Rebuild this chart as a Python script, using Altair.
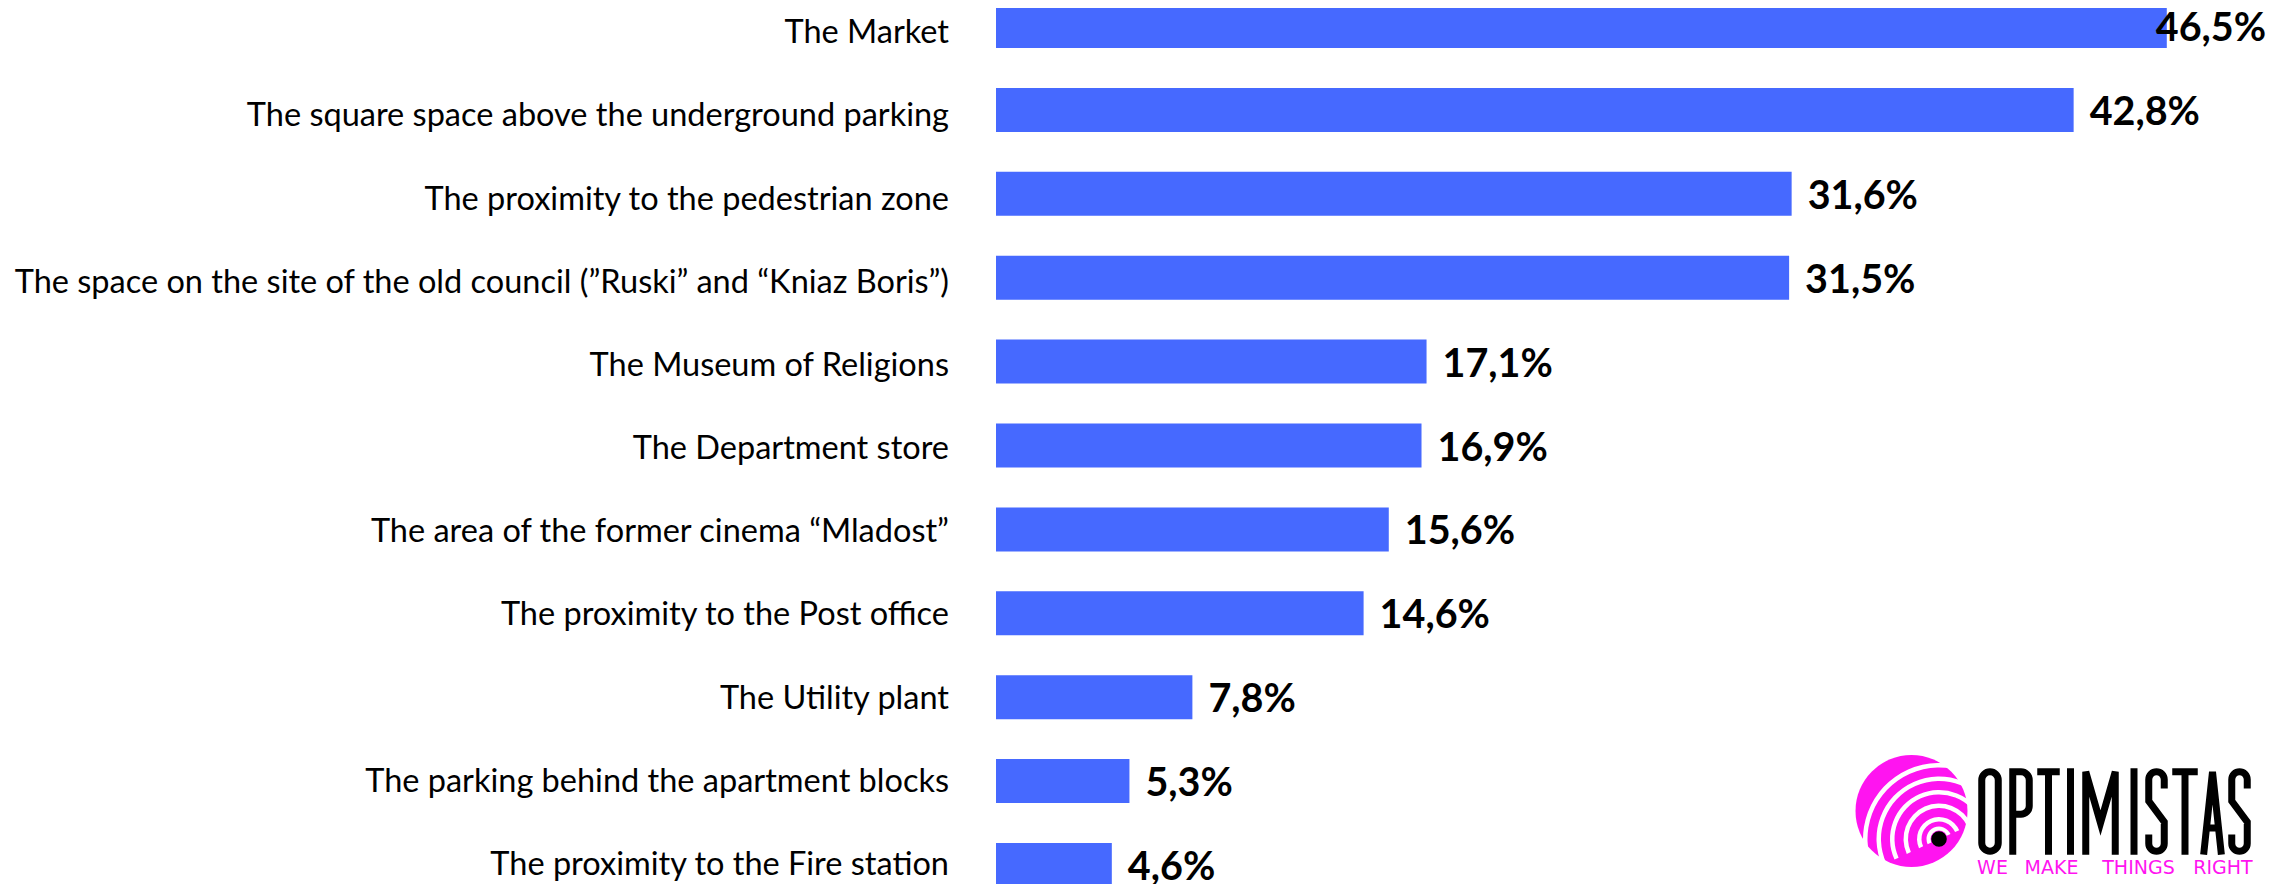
import altair as alt
import pandas as pd

categories = [
    "The Market",
    "The square space above the underground parking",
    "The proximity to the pedestrian zone",
    "The space on the site of the old council (\u201dRuski\u201d and \u201cKniaz Boris\u201d)",
    "The Museum of Religions",
    "The Department store",
    "The area of the former cinema \u201cMladost\u201d",
    "The proximity to the Post office",
    "The Utility plant",
    "The parking behind the apartment blocks",
    "The proximity to the Fire station",
]
values = [46.5, 42.8, 31.6, 31.5, 17.1, 16.9, 15.6, 14.6, 7.8, 5.3, 4.6]
labels = [f"{v:.1f}".replace(".", ",") + "%" for v in values]
slogan_words = ["WE", "MAKE", "THINGS", "RIGHT"]

df = pd.DataFrame({"category": categories, "value": values, "label": labels})

BAR = "#4669FF"
PINK = "#FF14F0"

yscale = alt.Scale(domain=categories, range=[-4, 879], paddingInner=0.4756, paddingOuter=0)
yscale_lab = alt.Scale(type="point", domain=categories, range=[35.3, 867], padding=0)
xscale = alt.Scale(domain=[0, 50.44], nice=False, zero=True)

base = alt.Chart(df).encode(
    y=alt.Y("category:N", sort=None, scale=yscale, axis=None),
    x=alt.X("value:Q", scale=xscale, axis=None),
)
bars = base.mark_bar(color=BAR)
txt_kw = dict(align="left", baseline="middle", font="Lato", fontSize=39.5,
              fontWeight="bold", color="black", dy=3)
text_rest = base.transform_filter(alt.datum.category != categories[0]).mark_text(
    dx=16, **txt_kw).encode(text="label:N")
text_top = base.transform_filter(alt.datum.category == categories[0]).mark_text(
    dx=-11, **txt_kw).encode(text="label:N")
bar_layer = alt.layer(bars, text_rest, text_top)

cat_labels = alt.Chart(df).mark_text(
    align="right", baseline="alphabetic", font="Lato", fontSize=32.5, color="black"
).encode(
    y=alt.Y("category:N", sort=None, scale=yscale_lab, axis=None),
    x=alt.value(-47),
    text="category:N",
)

# ---- logo (decoration) ----
one = pd.DataFrame({"k": [0]})
TAU = 6.2832
logo = []
logo.append(alt.Chart(one).mark_arc(color=PINK, radius=56, radius2=0, theta=0, theta2=TAU)
            .encode(x=alt.value(915.5), y=alt.value(803)))
rings = [(8.5, 12.5), (17.5, 22), (31, 35.5), (44.5, 49), (58, 62.5), (71.5, 76)]
for r_in, r_out in rings:
    logo.append(alt.Chart(one).mark_arc(color="white", radius=r_out, radius2=r_in,
                                        theta=4.28, theta2=7.45)
                .encode(x=alt.value(943), y=alt.value(831)))
logo.append(alt.Chart(one).mark_arc(color="black", radius=7.8, radius2=0, theta=0, theta2=TAU)
            .encode(x=alt.value(943), y=alt.value(831)))

letters = " ".join([
    "M4.75 12 L4.75 75 A8.25 8.25 0 0 0 21.25 75 L21.25 12 A8.25 8.25 0 0 0 4.75 12 Z",
    "M35.75 83.25 L35.75 3.75 L44 3.75 A8.25 8.25 0 0 1 52.25 12 L52.25 38 A8.25 8.25 0 0 1 44 46.25 L35.75 46.25",
    "M63.75 3.75 L79.25 3.75 M71.5 3.75 L71.5 83.25",
    "M93.5 3.75 L93.5 83.25",
    "M108.75 83.25 L108.75 3.75 L123.5 55 L138.25 3.75 L138.25 83.25",
    "M157 3.75 L157 83.25",
    "M187.25 17 L187.25 11.5 A7.75 7.75 0 0 0 171.75 11.5 L171.75 33 L187.25 54 L187.25 75.5 A7.75 7.75 0 0 1 171.75 75.5 L171.75 70",
    "M198.75 3.75 L217.25 3.75 M208 3.75 L208 83.25",
    "M227 83.25 L235.5 3.75 L244 83.25 M230.5 60 L240.5 60",
    "M270.25 17 L270.25 11.5 A7.75 7.75 0 0 0 254.75 11.5 L254.75 33 L270.25 54 L270.25 75.5 A7.75 7.75 0 0 1 254.75 75.5 L254.75 70",
])
logo.append(alt.Chart(one).mark_point(shape=letters, size=4, filled=False, stroke="black",
                                      strokeWidth=7, strokeCap="square", strokeJoin="miter",
                                      opacity=1)
            .encode(x=alt.value(981), y=alt.value(760)))
word_x = [996.5, 1055.5, 1142.5, 1227]
for w, wx in zip(slogan_words, word_x):
    logo.append(alt.Chart(one).mark_text(text=w, align="center", baseline="middle",
                                         font="DejaVu Sans", fontSize=19, color=PINK)
                .encode(x=alt.value(wx), y=alt.value(860)))

chart = alt.layer(bar_layer, cat_labels, *logo).resolve_scale(y="independent").properties(
    width=1270, height=876,
    autosize=alt.AutoSizeParams(type="none"),
    padding={"left": 988, "top": 0, "right": 0, "bottom": 0},
).configure_view(stroke=None)

chart.save("out.html", embed_options={"renderer": "svg", "actions": False})
